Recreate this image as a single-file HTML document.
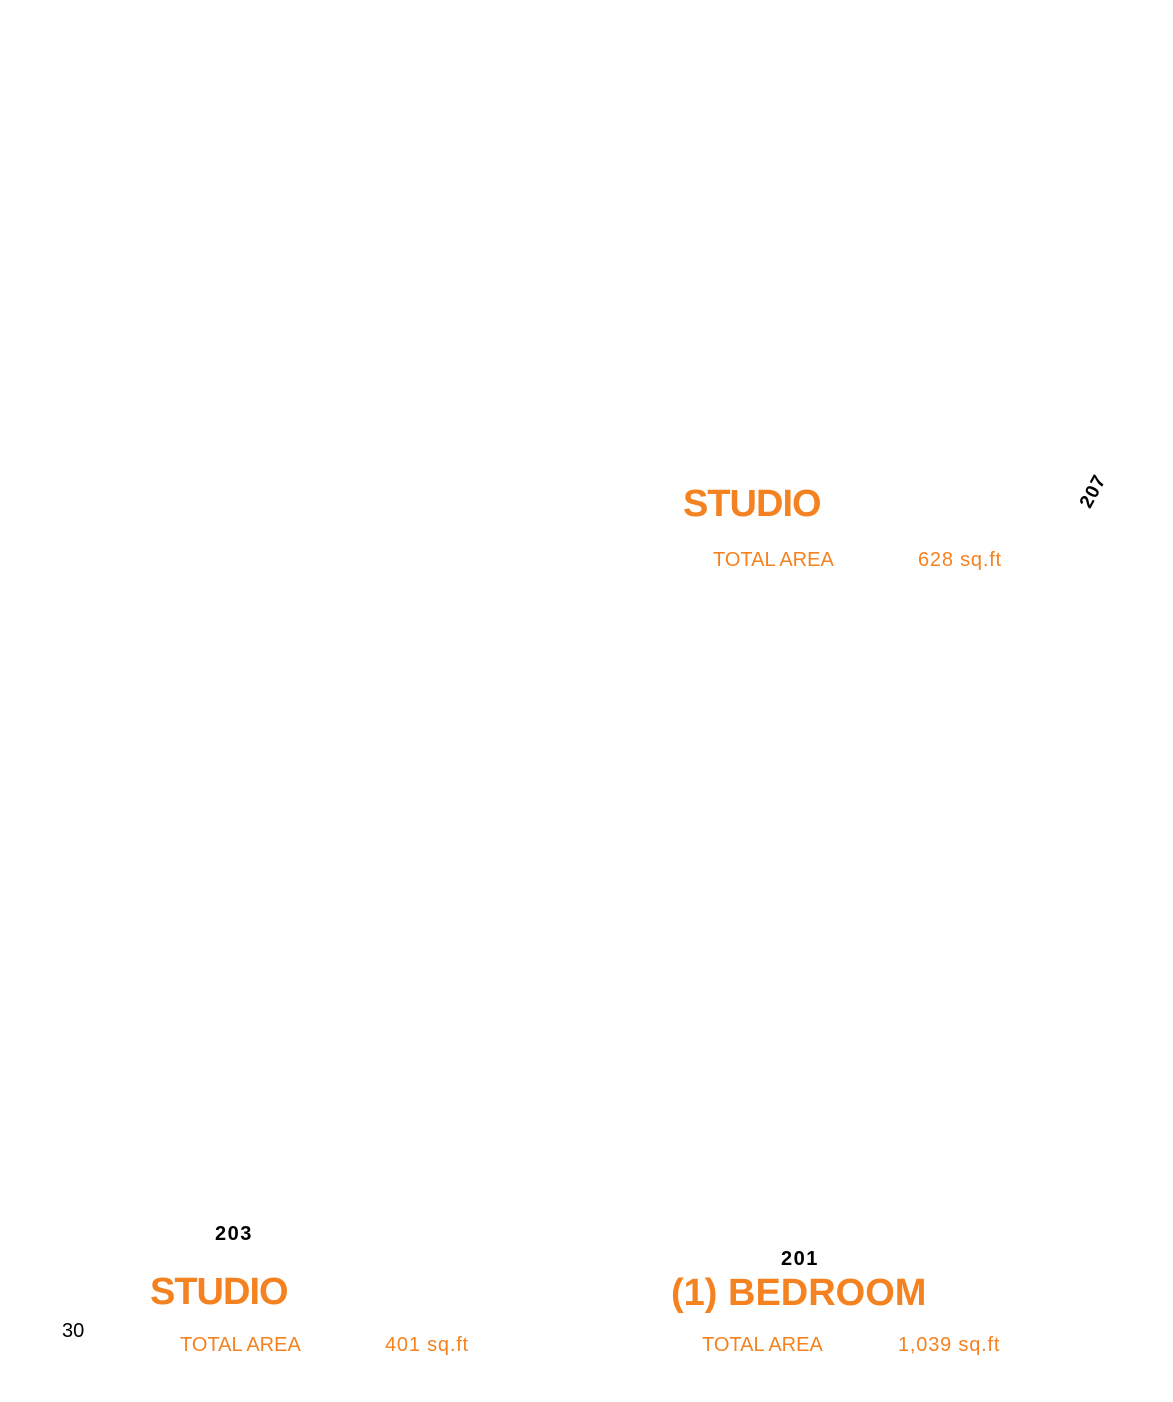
<!DOCTYPE html>
<html><head><meta charset="utf-8"><style>
body{margin:0;width:1173px;height:1402px;background:#fff;position:relative;overflow:hidden;font-family:"Liberation Sans",sans-serif}
div{position:absolute;line-height:1;white-space:nowrap}
.h{color:#F58220;font-weight:bold;font-size:38px;letter-spacing:-1px}
.t{color:#F58220;font-size:20px}
.s{letter-spacing:0.8px}
.n{color:#000;font-weight:bold;font-size:20px;letter-spacing:1.5px}
</style></head><body>
<div class="h" style="left:683px;top:485px">STUDIO</div>
<div class="t" style="left:713px;top:550px">TOTAL AREA</div>
<div class="t s" style="left:918px;top:550px">628 sq.ft</div>
<div class="n" style="left:1076px;top:482px;font-size:19px;letter-spacing:1px;transform:rotate(-62deg);transform-origin:center">207</div>
<div class="n" style="left:215px;top:1224px">203</div>
<div class="h" style="left:150px;top:1273px">STUDIO</div>
<div style="left:62px;top:1321px;font-size:20px;color:#000">30</div>
<div class="t" style="left:180px;top:1335px">TOTAL AREA</div>
<div class="t s" style="left:385px;top:1335px">401 sq.ft</div>
<div class="n" style="left:781px;top:1249px">201</div>
<div class="h" style="left:671px;top:1274px;letter-spacing:0px">(1) BEDROOM</div>
<div class="t" style="left:702px;top:1335px">TOTAL AREA</div>
<div class="t s" style="left:898px;top:1335px">1,039 sq.ft</div>
</body></html>
